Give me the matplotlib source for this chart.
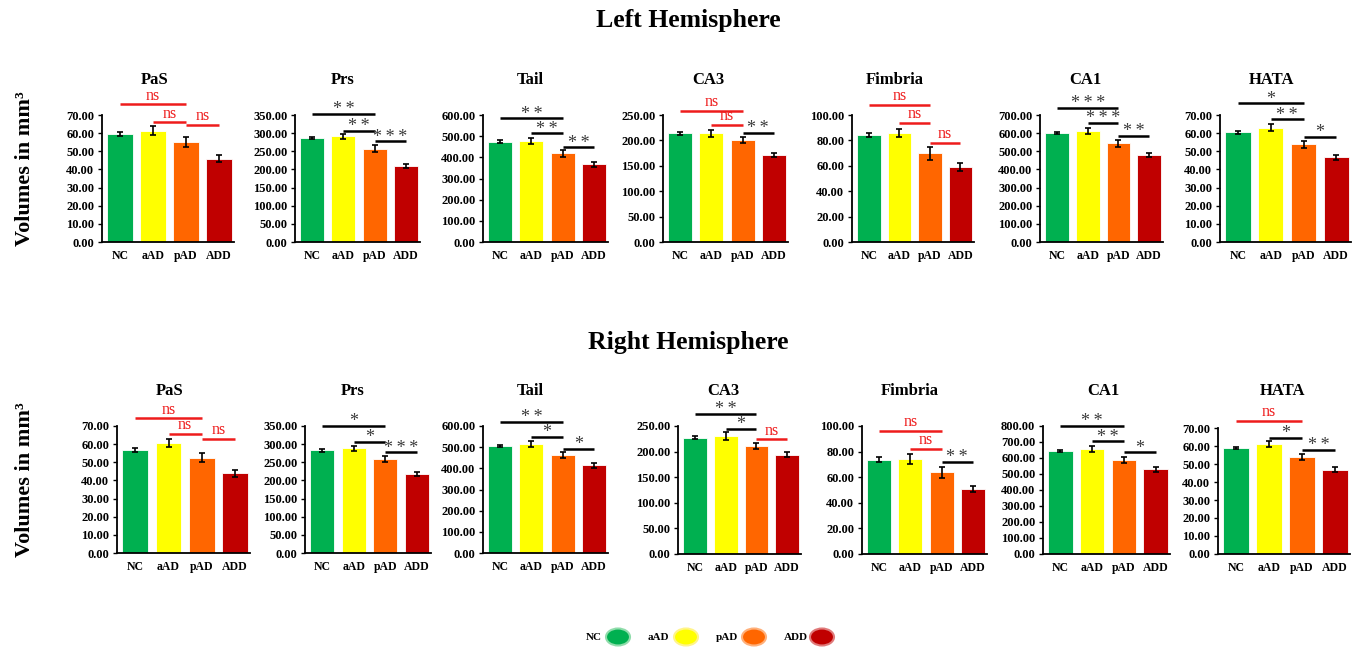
"""Hippocampal subfield volumes (mm³) per diagnostic group, left and right hemisphere."""

import matplotlib.pyplot as plt
from matplotlib.patches import Ellipse

plt.rcParams["font.family"] = ["Liberation Serif", "DejaVu Serif"]
plt.rcParams["font.weight"] = "bold"

W, H = 1363, 647

GROUPS = ["NC", "aAD", "pAD", "ADD"]
COLORS = ["#00B050", "#FFFF00", "#FF6600", "#C00000"]
LEGEND_EDGES = ["#8fdcaa", "#fff48a", "#ffb07a", "#e07a7a"]
REGIONS = ["PaS", "Prs", "Tail", "CA3", "Fimbria", "CA1", "HATA"]

# y-axis range (max, step) per subfield
LEFT_YAXIS = [(70, 10), (350, 50), (600, 100), (250, 50), (100, 20), (700, 100), (70, 10)]
RIGHT_YAXIS = [(70, 10), (350, 50), (600, 100), (250, 50), (100, 20), (800, 100), (70, 10)]

# mean volume, NC / aAD / pAD / ADD
LEFT_MEANS = [
    [59.6, 61.4, 55.1, 45.9],
    [287.3, 291.0, 257.0, 209.0],
    [474.0, 477.0, 418.6, 366.5],
    [213.8, 214.0, 200.7, 172.0],
    [84.2, 85.8, 69.7, 59.0],
    [598.6, 613.0, 543.0, 477.0],
    [60.4, 63.0, 53.8, 46.6],
]
LEFT_ERR = [
    [1.1, 2.5, 2.9, 2.0],
    [3.0, 7.5, 9.5, 5.5],
    [6.0, 15.0, 16.0, 11.0],
    [3.0, 7.0, 6.0, 4.0],
    [1.8, 3.4, 5.3, 2.9],
    [5.5, 18.0, 18.0, 11.0],
    [0.9, 1.8, 1.9, 1.6],
]
RIGHT_MEANS = [
    [56.7, 60.6, 52.5, 44.0],
    [282.7, 288.0, 258.7, 218.0],
    [505.5, 515.0, 463.0, 414.0],
    [227.0, 231.0, 211.0, 194.0],
    [73.7, 74.2, 64.0, 50.8],
    [641.7, 654.0, 587.5, 529.0],
    [58.9, 61.0, 53.9, 46.9],
]
RIGHT_ERR = [
    [1.2, 2.2, 2.4, 2.0],
    [3.0, 6.5, 9.0, 5.5],
    [6.0, 16.0, 16.0, 11.0],
    [3.3, 7.8, 6.5, 4.5],
    [2.0, 3.8, 4.3, 2.6],
    [7.0, 19.0, 17.0, 13.5],
    [0.7, 1.6, 1.8, 1.4],
]

# pairwise comparisons: (group a, group b, bracket height, label)
LEFT_SIG = [
    [(0, 2, 75.9, "ns"), (1, 2, 65.9, "ns"), (2, 3, 64.5, "ns")],
    [(0, 2, 352, "**"), (1, 2, 306, "**"), (2, 3, 277, "***")],
    [(0, 2, 584, "**"), (1, 2, 513, "**"), (2, 3, 447, "**")],
    [(0, 2, 258, "ns"), (1, 2, 230, "ns"), (2, 3, 215, "**")],
    [(0, 2, 108, "ns"), (1, 2, 94, "ns"), (2, 3, 78, "ns")],
    [(0, 2, 740, "***"), (1, 2, 657, "***"), (2, 3, 584, "**")],
    [(0, 2, 76.4, "*"), (1, 2, 67.6, "**"), (2, 3, 58, "*")],
]
RIGHT_SIG = [
    [(0, 2, 74.2, "ns"), (1, 2, 65.6, "ns"), (2, 3, 62.8, "ns")],
    [(0, 2, 350, "*"), (1, 2, 306, "*"), (2, 3, 277, "***")],
    [(0, 2, 618, "**"), (1, 2, 547, "*"), (2, 3, 493, "*")],
    [(0, 2, 274, "**"), (1, 2, 244, "*"), (2, 3, 224, "ns")],
    [(0, 2, 96, "ns"), (1, 2, 82, "ns"), (2, 3, 72, "**")],
    [(0, 2, 798, "**"), (1, 2, 704, "**"), (2, 3, 635, "*")],
    [(0, 2, 73.9, "ns"), (1, 2, 64.6, "*"), (2, 3, 58, "**")],
]

# panel boxes in pixels: (left, right, top, bottom) and title x
LEFT_BOXES = [(102, 234, 115, 242), (295, 420, 115, 242), (483, 608, 115, 242),
              (663, 788, 115, 242), (852, 974, 115, 242), (1040, 1163, 115, 242),
              (1220, 1351, 115, 242)]
LEFT_TITLE_X = [155, 343, 530, 708, 895, 1085, 1272]
RIGHT_BOXES = [(117, 250, 426, 553), (305, 431, 426, 553), (483, 608, 426, 553),
               (678, 801, 426, 554), (862, 987, 426, 554), (1043, 1170, 426, 554),
               (1218, 1350, 428, 554)]
RIGHT_TITLE_X = [170, 353, 530, 723, 910, 1103, 1283]


def px_axes(fig, box):
    x0, x1, y0, y1 = box
    return fig.add_axes([x0 / W, 1 - y1 / H, (x1 - x0) / W, (y1 - y0) / H])


def draw_panel(ax, means, errs, yaxis, sig):
    ymax, step = yaxis
    x = range(len(GROUPS))
    ax.bar(x, means, width=0.77, color=COLORS, edgecolor="white", linewidth=0.6,
           yerr=errs, capsize=2.5, error_kw={"elinewidth": 1.2, "capthick": 1.2, "ecolor": "black"})
    ax.set_xlim(-0.55, 3.45)
    ax.set_ylim(0, ymax)
    ticks = [i * step for i in range(int(round(ymax / step)) + 1)]
    ax.set_yticks(ticks)
    ax.set_yticklabels([f"{t:.2f}" for t in ticks])
    ax.set_xticks(list(x))
    ax.set_xticklabels(GROUPS)
    ax.tick_params(axis="y", length=3, width=1, pad=2.5, labelsize=9)
    ax.tick_params(axis="x", length=0, pad=5.5, labelsize=8.5)
    for s in ("top", "right"):
        ax.spines[s].set_visible(False)
    for s in ("left", "bottom"):
        ax.spines[s].set_linewidth(1.3)

    for a, b, y, label in sig:
        color = "#ee1c1c" if label == "ns" else "black"
        ax.plot([a, b], [y, y], color=color, lw=1.8, clip_on=False, solid_capstyle="butt")
        if label == "ns":
            ax.annotate(label, ((a + b) / 2, y), xytext=(0, 0.5), textcoords="offset points",
                        ha="center", va="bottom", fontsize=11.5, fontweight="normal",
                        color="#ee1c1c", annotation_clip=False)
        else:
            # asterisks are spaced out a little
            ax.annotate("\u2009".join(label), ((a + b) / 2, y), xytext=(0, -3),
                        textcoords="offset points", ha="center", va="bottom", fontsize=13,
                        fontweight="normal", color="#3a3a3a", annotation_clip=False)


fig = plt.figure(figsize=(W / 100, H / 100), dpi=100)

rows = [
    ("Left Hemisphere", 20, 80, LEFT_BOXES, LEFT_TITLE_X, LEFT_MEANS, LEFT_ERR, LEFT_YAXIS, LEFT_SIG, 169),
    ("Right Hemisphere", 342, 391, RIGHT_BOXES, RIGHT_TITLE_X, RIGHT_MEANS, RIGHT_ERR, RIGHT_YAXIS, RIGHT_SIG, 480),
]
for head, head_y, title_y, boxes, title_x, means, errs, yaxes, sigs, ylab_y in rows:
    fig.text(0.5 * (595 + 782) / W, 1 - head_y / H, head, ha="center", va="center",
             fontsize=18.5, fontweight="bold")
    fig.text(25 / W, 1 - ylab_y / H, "Volumes in mm³", rotation=90, ha="center", va="center",
             fontsize=16, fontweight="bold")
    for k, region in enumerate(REGIONS):
        ax = px_axes(fig, boxes[k])
        draw_panel(ax, means[k], errs[k], yaxes[k], sigs[k])
        fig.text(title_x[k] / W, 1 - title_y / H, region, ha="center", va="center",
                 fontsize=12, fontweight="bold")

# legend strip along the bottom
leg = fig.add_axes([0, 0, 1, 1], zorder=-1)
leg.set_xlim(0, W)
leg.set_ylim(H, 0)
leg.axis("off")
label_right = [602, 669, 738, 808]
mark_x = [618, 686, 754, 822]
for name, xr, xm, c, ec in zip(GROUPS, label_right, mark_x, COLORS, LEGEND_EDGES):
    leg.text(xr, 637, name, ha="right", va="center", fontsize=8, fontweight="bold")
    leg.add_patch(Ellipse((xm, 637), 24, 17, facecolor=c, edgecolor=ec, linewidth=1.5))

fig.savefig("out.png", dpi=100)
